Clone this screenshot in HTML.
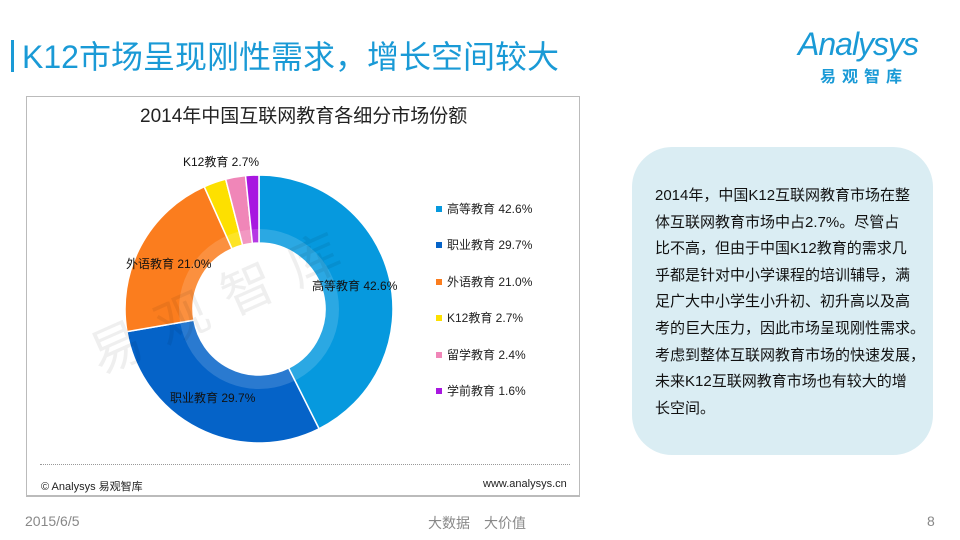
<!DOCTYPE html>
<html><head><meta charset="utf-8"><style>
body{margin:0;width:960px;height:540px;background:#fff;position:relative;overflow:hidden;font-family:"Liberation Sans","Noto Sans CJK SC",sans-serif}
.a{position:absolute;white-space:nowrap}
</style></head><body>
<div class="a" style="left:11px;top:40px;width:3px;height:32px;background:#1a9ad6"></div>
<div class="a" style="left:22px;top:32px;font-size:32px;color:#1a9ad6;letter-spacing:0px">K12市场呈现刚性需求，增长空间较大</div>
<div class="a" style="left:798px;top:26px;font-size:32px;color:#1a9ad6;font-style:italic;letter-spacing:-1px">Analysys</div>
<div class="a" style="left:820px;top:63px;font-size:16px;color:#1a9ad6;font-weight:bold;letter-spacing:6px">易观智库</div>

<div class="a" style="left:26px;top:96px;width:552px;height:398px;border:1px solid #bbb;border-bottom:2px solid #bbb"></div>
<div class="a" style="left:140px;top:101px;font-size:19px;color:#222">2014年中国互联网教育各细分市场份额</div>
<div class="a" style="left:40px;top:464px;width:530px;border-top:1px dotted #999"></div>
<div class="a" style="left:41px;top:478px;font-size:11px;color:#222">© Analysys 易观智库</div>
<div class="a" style="left:483px;top:478px;font-size:11px;color:#222">www.analysys.cn</div>

<svg class="a" style="left:0;top:0" width="600" height="500">
<g stroke="#fff" stroke-width="1.5">
<path d="M259,175 A134,134 0 0 1 319.07,428.78 L288.59,368 A66,66 0 0 0 259,243 Z" fill="#0699de"/>
<path d="M319.07,428.78 A134,134 0 0 1 126.93,331.62 L193.95,320.14 A66,66 0 0 0 288.59,368 Z" fill="#0563c8"/>
<path d="M126.93,331.62 A134,134 0 0 1 204.25,186.7 L232.03,248.76 A66,66 0 0 0 193.95,320.14 Z" fill="#fb7d1e"/>
<path d="M204.25,186.7 A134,134 0 0 1 225.67,179.21 L242.59,245.07 A66,66 0 0 0 232.03,248.76 Z" fill="#fde000"/>
<path d="M225.67,179.21 A134,134 0 0 1 245.55,175.67 L252.37,243.33 A66,66 0 0 0 242.59,245.07 Z" fill="#f086b8"/>
<path d="M245.55,175.67 A134,134 0 0 1 259,175 L259,243 A66,66 0 0 0 252.37,243.33 Z" fill="#a817e0"/>
</g>
<circle cx="259" cy="309" r="73" fill="none" stroke="#fff" stroke-opacity="0.15" stroke-width="14"/>
<text x="100" y="375" font-size="52" fill="#000" opacity="0.06" letter-spacing="20" transform="rotate(-24 100 375)" font-family="Noto Sans CJK SC">易观智库</text>
<g font-size="12" fill="#111" font-family="Liberation Sans, Noto Sans CJK SC, sans-serif">
<text x="183" y="166">K12教育 2.7%</text>
<text x="126" y="268">外语教育 21.0%</text>
<text x="312" y="290">高等教育 42.6%</text>
<text x="170" y="402">职业教育 29.7%</text>
</g>
<g font-size="12" fill="#222" font-family="Liberation Sans, Noto Sans CJK SC, sans-serif">
<rect x="436" y="206" width="6" height="6" fill="#0699de"/><text x="447" y="213">高等教育 42.6%</text>
<rect x="436" y="242" width="6" height="6" fill="#0563c8"/><text x="447" y="249">职业教育 29.7%</text>
<rect x="436" y="279" width="6" height="6" fill="#fb7d1e"/><text x="447" y="286">外语教育 21.0%</text>
<rect x="436" y="315" width="6" height="6" fill="#fde000"/><text x="447" y="322">K12教育 2.7%</text>
<rect x="436" y="352" width="6" height="6" fill="#f086b8"/><text x="447" y="359">留学教育 2.4%</text>
<rect x="436" y="388" width="6" height="6" fill="#a817e0"/><text x="447" y="395">学前教育 1.6%</text>
</g>
</svg>

<div class="a" style="left:632px;top:147px;width:301px;height:308px;background:#daedf3;border-radius:40px"></div>
<div class="a" style="left:655px;top:183px;font-size:15px;line-height:26.6px;color:#111">2014年，中国K12互联网教育市场在整<br>体互联网教育市场中占2.7%。尽管占<br>比不高，但由于中国K12教育的需求几<br>乎都是针对中小学课程的培训辅导，满<br>足广大中小学生小升初、初升高以及高<br>考的巨大压力，因此市场呈现刚性需求。<br>考虑到整体互联网教育市场的快速发展，<br>未来K12互联网教育市场也有较大的增<br>长空间。</div>

<div class="a" style="left:25px;top:513px;font-size:14px;color:#888">2015/6/5</div>
<div class="a" style="left:428px;top:513px;font-size:14px;color:#888">大数据　大价值</div>
<div class="a" style="left:927px;top:513px;font-size:14px;color:#888">8</div>
</body></html>
